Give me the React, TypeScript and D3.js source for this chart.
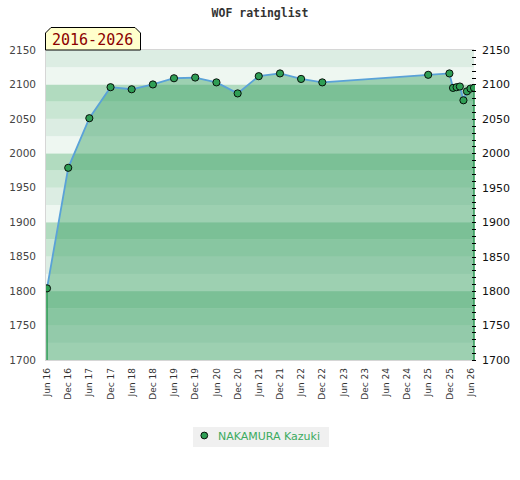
import * as d3 from 'd3'

const months = [
  '2016-06', '2016-12', '2017-06', '2017-12', '2018-06', '2018-12', '2019-06', '2019-12',
  '2020-06', '2020-12', '2021-06', '2021-12', '2022-06', '2022-12', '2025-06', '2025-12',
  '2026-01', '2026-02', '2026-03', '2026-04', '2026-05', '2026-06', '2026-07',
]
const ratings = [
  1804, 1979, 2051, 2096, 2093, 2100, 2109, 2110, 2103, 2087, 2112, 2116, 2108, 2103, 2114, 2116,
  2095, 2096, 2097, 2077, 2090, 2094, 2095,
]
const player = 'NAKAMURA Kazuki'
const title = 'WOF ratinglist'
const periodLabel = '2016-2026'
const yDomain = [1700, 2150]
const xDomain = ['2016-06', '2026-07']

const bandColors = ['#eef7f1', '#dcede3', '#c9e6d3', '#b1dbbf']

type Point = { date: Date; value: number }

const parse = d3.timeParse('%Y-%m')
const data: Point[] = months.map((m, i) => ({ date: parse(m) as Date, value: ratings[i] }))

export default function App() {
  const width = 520
  const height = 480
  const left = 46
  const right = 474
  const top = 50
  const bottom = 360

  const x = d3
    .scaleTime()
    .domain(xDomain.map((m) => parse(m) as Date))
    .range([left + 1, right])
  const y = d3.scaleLinear().domain(yDomain).range([bottom, top])

  const bands = d3.range(yDomain[0], yDomain[1], 25)
  const labelTicks = d3.range(yDomain[0], yDomain[1] + 1, 50)
  const minorTicks = d3.range(yDomain[0], yDomain[1] + 1, 10)
  const xTicks = d3.timeMonth.range(parse('2016-06') as Date, parse('2026-07') as Date, 6)
  const fmt = d3.timeFormat('%b %y')

  const area = d3
    .area<Point>()
    .x((d) => x(d.date))
    .y0(y(yDomain[0]))
    .y1((d) => y(d.value))
  const line = d3
    .line<Point>()
    .x((d) => x(d.date))
    .y((d) => y(d.value))

  const first = data[0]
  const last = data[data.length - 1]

  return (
    <div style={{ position: 'fixed', left: 0, top: 0 }}>
      <svg width={width} height={height} style={{ display: 'block', fontFamily: 'DejaVu Sans' }}>
        <rect width={width} height={height} fill="#fff" />
        <text
          x={260}
          y={17}
          textAnchor="middle"
          fontFamily="DejaVu Sans Mono"
          fontWeight="bold"
          fontSize={11.5}
          fill="#333"
        >
          {title}
        </text>

        <defs>
          <clipPath id="plot">
            <rect x={left} y={top - 6} width={right - left + 1} height={bottom - top + 6} />
          </clipPath>
        </defs>

        {bands.map((b) => (
          <rect
            key={b}
            x={left}
            width={right - left}
            y={y(b + 25)}
            height={y(b) - y(b + 25)}
            fill={bandColors[(b % 100) / 25]}
          />
        ))}

        <path d={area(data) ?? ''} fill="rgba(57,160,99,0.45)" />
        <line x1={x(first.date)} x2={x(first.date)} y1={y(first.value)} y2={bottom} stroke="#2e9a55" strokeWidth={1.5} />
        <line x1={x(last.date)} x2={x(last.date)} y1={y(last.value)} y2={bottom} stroke="#2e9a55" strokeWidth={1.5} />

        <line x1={left - 0.5} x2={left - 0.5} y1={top} y2={bottom} stroke="#d6d6d6" />
        <line x1={left - 1} x2={right} y1={top - 0.5} y2={top - 0.5} stroke="#d6d6d6" />
        <line x1={left - 1} x2={right} y1={bottom + 0.5} y2={bottom + 0.5} stroke="#d6d6d6" />

        <path d={line(data) ?? ''} fill="none" stroke="#5aa2d8" strokeWidth={1.8} />

        <g clipPath="url(#plot)">
          {data.map((d) => (
            <circle key={+d.date} cx={x(d.date)} cy={y(d.value)} r={3.6} fill="#2f9e55" stroke="#000" strokeWidth={0.9} />
          ))}
        </g>

        {minorTicks.map((t) => (
          <line key={t} x1={472} x2={476} y1={Math.round(y(t)) + 0.5} y2={Math.round(y(t)) + 0.5} stroke="#000" />
        ))}

        {labelTicks.map((t) => (
          <g key={t}>
            <text x={36} y={y(t)} dy="0.35em" textAnchor="end" fontSize={10.5} fill="#444">
              {t}
            </text>
            <text x={482} y={y(t)} dy="0.35em" textAnchor="start" fontSize={11} fill="#111">
              {t}
            </text>
          </g>
        ))}

        {xTicks.map((t) => (
          <text
            key={+t}
            transform={`translate(${x(t)},${bottom + 8}) rotate(-90)`}
            dy="0.35em"
            textAnchor="end"
            fontSize={9}
            fill="#333"
          >
            {fmt(t)}
          </text>
        ))}

        <path
          d={`M${left - 0.5},${top} L${left - 0.5},33 L51,27.5 L135,27.5 L140.5,33 L140.5,${top} Z`}
          fill="#ffffcc"
          stroke="#000"
        />
        <text x={52} y={45} fontFamily="DejaVu Sans Mono" fontSize={15} fill="#8b0000">
          {periodLabel}
        </text>

        <rect x={193} y={427} width={136} height={20} fill="#f0f0f0" />
        <circle cx={204.3} cy={435.5} r={3.4} fill="#2f9e55" stroke="#000" strokeWidth={0.9} />
        <text x={218} y={440} fontSize={11} fill="#3cab5f">
          {player}
        </text>
      </svg>
    </div>
  )
}
